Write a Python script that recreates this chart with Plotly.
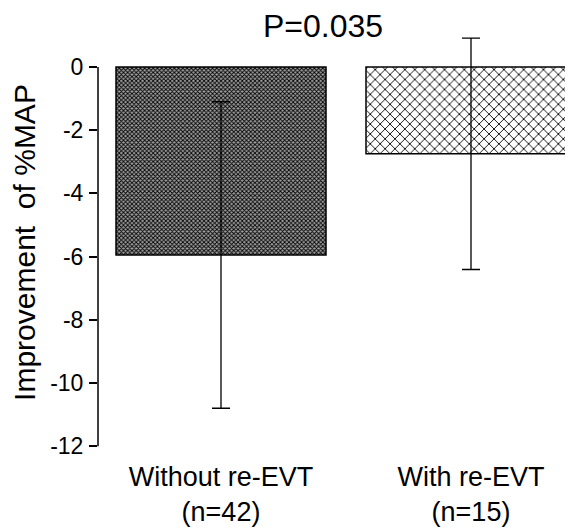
import plotly.graph_objects as go

categories = ["Without re-EVT<br>(n=42)", "With re-EVT<br>(n=15)"]
means = [-5.95, -2.75]
errors = [4.85, 3.66]
y_ticks = [0, -2, -4, -6, -8, -10, -12]
title_text = "P=0.035"
y_title = "Improvement  of %MAP"

FONT = "Arial, Liberation Sans, sans-serif"
OFF = 8  # browser default body margin

fig = go.Figure()
patterns = [
    dict(shape="x", size=3, solidity=0.5, fgcolor="#000000", bgcolor="#a0a0a0", fillmode="replace"),
    dict(shape="x", size=7, solidity=0.24, fgcolor="#000000", bgcolor="#ffffff", fillmode="replace"),
]
for i, (c, m, e) in enumerate(zip(categories, means, errors)):
    fig.add_trace(go.Bar(
        x=[i], y=[m],
        width=0.84,
        marker=dict(color="#ffffff", line=dict(color="#000000", width=1.5), pattern=patterns[i]),
        error_y=dict(type="data", array=[e], symmetric=True, color="#000000", thickness=1.3, width=9),
        showlegend=False,
    ))

fig.add_shape(type="line", xref="paper", yref="y", x0=0, x1=0, y0=-12, y1=0,
              line=dict(color="#000000", width=1.5))

fig.update_layout(
    width=573 - OFF, height=529 - OFF,
    margin=dict(l=98 - OFF, r=0, t=30 - OFF, b=74),
    plot_bgcolor="white", paper_bgcolor="white",
    font=dict(family=FONT, color="#000000"),
    xaxis=dict(range=[-0.492, 1.408], tickvals=[0, 1], ticktext=categories,
               showline=False, showgrid=False, zeroline=False, ticks="",
               tickfont=dict(size=27, family=FONT), ticklabelstandoff=3, automargin=False),
    yaxis=dict(range=[-12.28, 1.17], tickvals=y_ticks, ticktext=[str(v) for v in y_ticks],
               showline=False, showgrid=False, zeroline=False, ticks="outside", ticklen=8,
               tickwidth=1.5, tickcolor="#000000", automargin=False,
               tickfont=dict(size=23, family=FONT), ticklabelstandoff=1,
               title=dict(text=y_title, font=dict(size=30, family=FONT), standoff=14)),
    annotations=[dict(text=title_text, xref="paper", yref="paper", x=0.473, y=1.0,
                      yanchor="bottom", yshift=-16, showarrow=False, font=dict(size=32, family=FONT))],
)

fig.write_html("out.html")
